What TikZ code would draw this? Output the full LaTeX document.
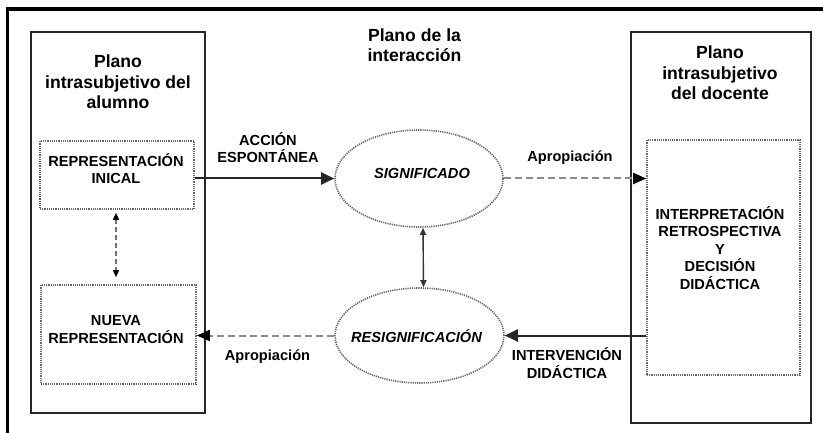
\documentclass[tikz,border=0pt]{standalone}
\usepackage{fontspec}
\setmainfont{Liberation Sans}
\usetikzlibrary{arrows.meta,shapes.geometric}
\begin{document}
\begin{tikzpicture}[x=1pt,y=-1pt,
  title/.style={font=\fontsize{17.6}{20.5}\selectfont\bfseries,align=center,anchor=base,inner sep=0pt},
  caps/.style={font=\fontsize{14.6}{17.5}\selectfont\bfseries,align=center,anchor=base,inner sep=0pt},
  frameline/.style={line width=3.5pt,black},
  planebox/.style={draw=black!85,line width=2pt,rectangle,inner sep=0pt},
  dotbox/.style={draw=black!60,line width=1.6pt,dash pattern=on 1.2pt off 1pt,rectangle,inner sep=0pt},
  dotell/.style={draw=black!60,line width=1.6pt,dash pattern=on 1.2pt off 1pt,ellipse,inner sep=0pt},
  solidarrow/.style={draw=black!85,line width=2pt,-{Triangle[length=13pt,width=12pt]}},
  dasharrow/.style={draw=black!45,line width=2pt,dash pattern=on 7pt off 4pt,-{Triangle[length=13pt,width=11pt,fill=black,color=black]}},
  smallboth/.style={draw=black!80,line width=1.4pt,{Triangle[length=7pt,width=6pt]}-{Triangle[length=7pt,width=6pt]}},
  smallbothdash/.style={draw=black!55,line width=1.4pt,dash pattern=on 5pt off 3pt,{Triangle[length=7pt,width=6pt,color=black]}-{Triangle[length=7pt,width=6pt,color=black]}}
]
\useasboundingbox (0,0) rectangle (823,433);
\fill[white] (0,0) rectangle (823,433);
% outer frame (only top and left visible)
\coordinate (fbl) at (7.5,433);
\coordinate (ftl) at (7.5,9);
\coordinate (ftr) at (823,9);
\draw[frameline] (fbl) -- (ftl) -- (ftr);

% plane boxes
\node[planebox,minimum width=174pt,minimum height=381pt] (alumno) at (118,222.5) {};
\node[planebox,minimum width=180pt,minimum height=391pt] (docente) at (721,227.5) {};

% dotted boxes
\node[dotbox,minimum width=154pt,minimum height=68pt] (rep) at (117,175) {};
\node[dotbox,minimum width=155pt,minimum height=99pt] (nueva) at (118.5,334.5) {};
\node[dotbox,minimum width=153pt,minimum height=235pt] (interp) at (723.5,257.5) {};

% ellipses
\node[dotell,minimum width=168pt,minimum height=97pt] (sig) at (419,178.5) {};
\node[dotell,minimum width=169pt,minimum height=95pt] (resig) at (419.5,335.5) {};

% texts (anchor = baseline of last line)
\node[title] (t1) at (118,109) {Plano\\intrasubjetivo del\\alumno};
\node[title] (t2) at (414.5,62) {Plano de la\\interacción};
\node[title] (t3) at (720,100) {Plano\\intrasubjetivo\\del docente};

\node[caps] (l1) at (116,184) {REPRESENTACIÓN\\INICAL};
\node[caps] (l2) at (116,343) {NUEVA\\REPRESENTACIÓN};
\node[caps] (l3) at (720,289) {INTERPRETACIÓN\\RETROSPECTIVA\\Y\\DECISIÓN\\DIDÁCTICA};
\node[caps] (l4) at (268,163) {ACCIÓN\\ESPONTÁNEA};
\node[caps] (l5) at (567,378) {INTERVENCIÓN\\DIDÁCTICA};
\node[caps] (l6) at (570,162) {Apropiación};
\node[caps] (l7) at (267.5,360) {Apropiación};
\node[caps,font=\fontsize{14.6}{17.5}\selectfont\bfseries\itshape] (l8) at (422,179) {SIGNIFICADO};
\node[caps,font=\fontsize{14.6}{17.5}\selectfont\bfseries\itshape] (l9) at (416.5,342) {RESIGNIFICACIÓN};

% connectors
\draw[solidarrow] (rep.east |- sig.west) -- (sig.west);
\draw[dasharrow] (sig.east) -- (interp.west |- sig.east);
\draw[solidarrow] (interp.west |- resig.east) -- (resig.east);
\draw[dasharrow] (resig.west) -- (nueva.east |- resig.west);
\draw[smallboth] ([xshift=4pt]sig.south) -- ([xshift=4pt]resig.north);
\draw[smallbothdash,shorten <=3pt,shorten >=7pt] ([xshift=-1pt]rep.south) -- ([xshift=-1pt]rep.south |- nueva.north);
\end{tikzpicture}
\end{document}
